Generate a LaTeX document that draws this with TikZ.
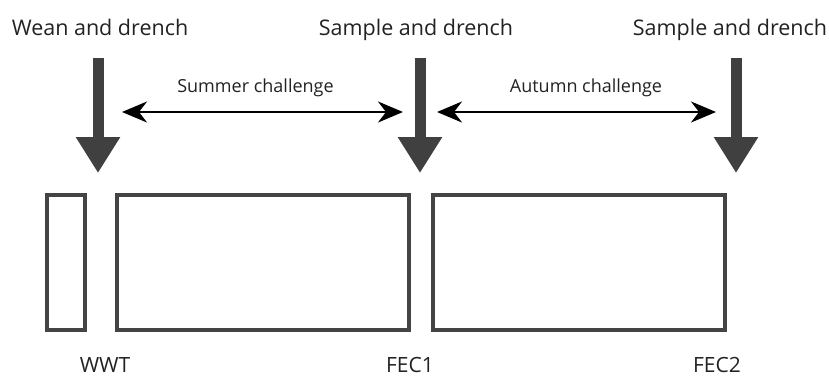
\documentclass[tikz,border=0pt]{standalone}
\usepackage{fontspec}
\setmainfont{Open Sans}
\usetikzlibrary{arrows.meta}
\definecolor{boxgray}{HTML}{444444}
\definecolor{arrgray}{HTML}{404040}
\definecolor{txtgray}{HTML}{222222}
\begin{document}
\begin{tikzpicture}[x=1pt,y=-1pt,
  stage/.style={draw=boxgray,line width=3.5pt,minimum height=135pt,inner sep=0pt,anchor=north west},
  bigarrow/.style={draw=arrgray,line width=11pt,-{Triangle[length=36pt,width=42pt]}},
  period/.style={draw=black,line width=2.5pt,{Stealth[length=25pt,width=21pt,inset=8pt]}-{Stealth[length=25pt,width=21pt,inset=8pt]}},
  event/.style={font=\fontsize{21.5}{26}\selectfont,text=txtgray,inner sep=0pt,anchor=base},
  plabel/.style={font=\fontsize{18}{22}\selectfont,text=txtgray,inner sep=0pt,anchor=base},
  stagelabel/.style={font=\fontsize{21}{25}\selectfont,text=txtgray,inner sep=0pt,anchor=base,text depth=0pt}]
\useasboundingbox (0,0) rectangle (829,376);
% boxes
\node[stage,minimum width=38pt] (b1) at (45,193) {};
\node[stage,minimum width=292pt] (b2) at (115,193) {};
\node[stage,minimum width=292pt] (b3) at (431,193) {};
% event labels
\node[event] (e1) at (100,35) {Wean and drench};
\node[event] (e2) at (416,35) {Sample and drench};
\node[event] (e3) at (730,35) {Sample and drench};
% big arrows
\coordinate (a1s) at (98,58); \coordinate (a1e) at (98,173);
\coordinate (a2s) at (420,58); \coordinate (a2e) at (420,173);
\coordinate (a3s) at (736,58); \coordinate (a3e) at (736,173);
\draw[bigarrow] (a1s) -- (a1e);
\draw[bigarrow] (a2s) -- (a2e);
\draw[bigarrow] (a3s) -- (a3e);
% period arrows
\coordinate (p1a) at (122,112); \coordinate (p1b) at (403,112);
\coordinate (p2a) at (437,112); \coordinate (p2b) at (716,112);
\draw[period] (p1a) -- (p1b);
\draw[period] (p2a) -- (p2b);
\node[plabel] (l1) at (255.5,92) {Summer challenge};
\node[plabel] (l2) at (586,92) {Autumn challenge};
% bottom labels
\node[stagelabel] (m1) at (105,372) {WWT};
\node[stagelabel] (m2) at (410,372) {FEC1};
\node[stagelabel] (m3) at (717,372) {FEC2};
\end{tikzpicture}
\end{document}
